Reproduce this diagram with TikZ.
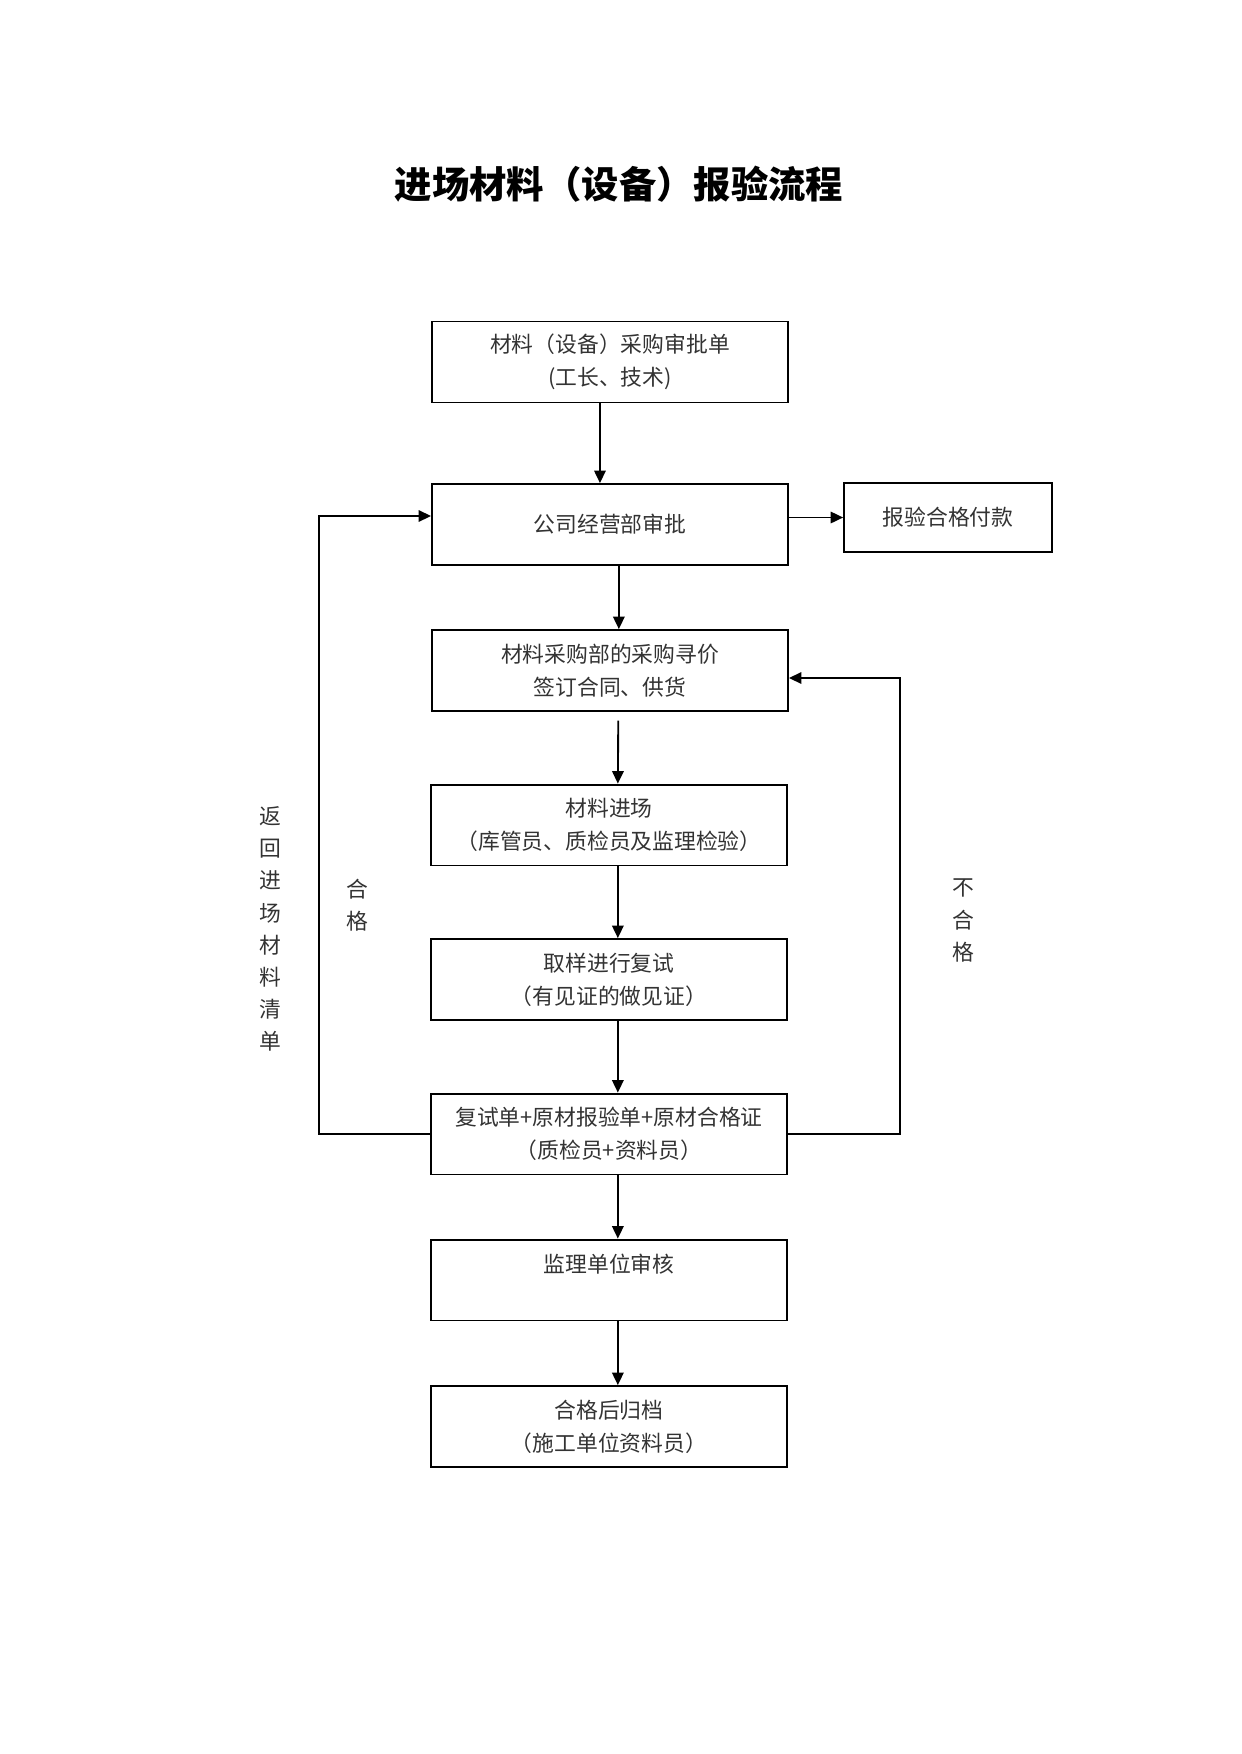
\documentclass[tikz,border=0pt]{standalone}
\usepackage{fontspec}
\setmainfont{Noto Sans CJK SC}
\usepackage{tikz}
\usetikzlibrary{positioning}
\usetikzlibrary{arrows.meta,calc}
\tikzstyle{flowbox}=[rectangle,draw=black,line width=0.9pt,minimum width=6.03cm,minimum height=1.37cm,inner sep=0pt,align=center,text=black!80,font=\fontsize{10.5}{15.8}\selectfont]
\tikzstyle{paybox}=[flowbox,minimum width=3.52cm,minimum height=1.17cm]
\tikzstyle{edge} = [draw,line width=0.9pt,-{Triangle[length=6pt,width=5.5pt]}]
\tikzstyle{undirectededge} = [draw,line width=0.9pt]
\tikzstyle{sidelabel} = [align=center,inner sep=0pt,text=black!80,font=\fontsize{10.5}{15.5}\selectfont]

\begin{document}
\begin{tikzpicture}[x=0.016933cm, y=-0.016933cm]

  \useasboundingbox (0,0) rectangle (1241,1754);

  \node[font=\fontsize{18}{22}\bfseries] (title) at (619,184) {进场材料（设备）报验流程};

   \foreach \x/\y/\name/\label in {610/362/b1/{材料（设备）采购审批单\\(工长、技术)}, 610/524.5/b2/{公司经营部审批}, 610/670.5/b3/{材料采购部的采购寻价\\签订合同、供货}}
          \node[flowbox] (\name) at (\x, \y) {\label};

   \foreach \x/\y/\name/\label in {609/825/b4/{材料进场\\（库管员、质检员及监理检验）}, 609/979.5/b5/{取样进行复试\\（有见证的做见证）}, 609/1134/b6/{复试单+原材报验单+原材合格证\\（质检员+资料员）}, 609/1280/b7/{监理单位审核\\\mbox{}}, 609/1426.5/b8/{合格后归档\\（施工单位资料员）}}
          \node[flowbox] (\name) at (\x, \y) {\label};

  \node[paybox] (pay) at (948,517.5) {报验合格付款};

  % main line
  \path[edge] ([xshift=-0.17cm]b1.south) -- ([xshift=-0.17cm]b2.north);
  \path[edge] ([xshift=0.15cm]b2.south) -- ([xshift=0.15cm]b3.north);
  \path[edge] ([xshift=0.14cm,yshift=-0.15cm]b3.south) -- ([xshift=0.15cm]b4.north);
  \foreach \source/ \dest in {b4/b5, b5/b6, b6/b7, b7/b8}
         \path[edge] ([xshift=0.15cm]\source.south) -- ([xshift=0.15cm]\dest.north);

  \path[edge] (b2.east |- pay.west) -- (pay.west);

  % loops back
  \coordinate (lft) at (319,516);
  \coordinate (rgt) at (900,678);
  \path[edge] (b6.west) -| (lft) -- (b2.west |- lft);
  \path[edge] (b6.east) -| (rgt) -- (b3.east |- rgt);

  \node[sidelabel] (back) at (270,929) {返\\回\\进\\场\\材\\料\\清\\单};
  \node[sidelabel] (pass) at (357,905.5) {合\\格};
  \node[sidelabel] (fail) at (963,920.5) {不\\合\\格};

\end{tikzpicture}
\end{document}
